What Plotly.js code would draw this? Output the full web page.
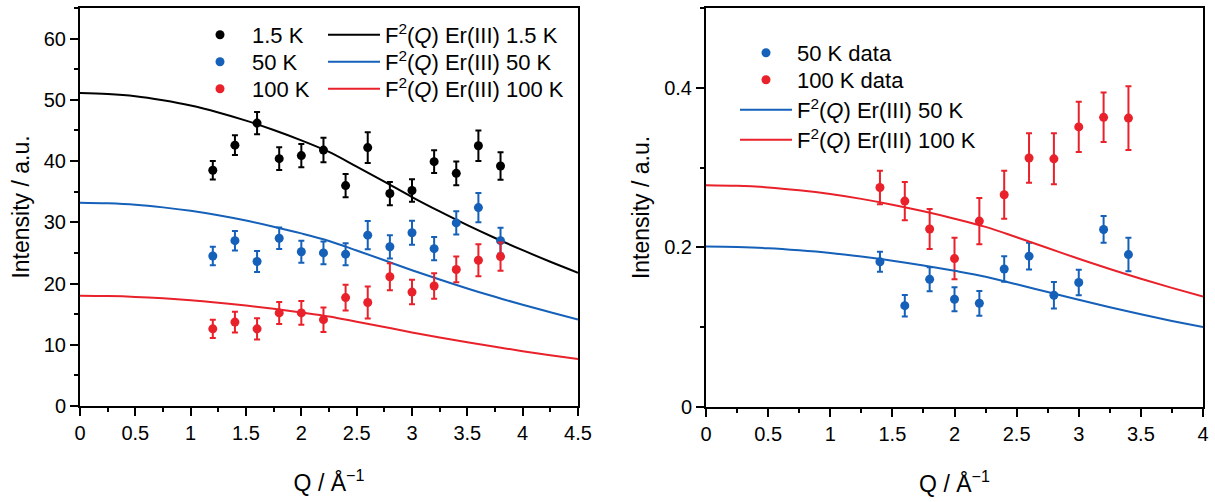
<!DOCTYPE html>
<html>
<head>
<meta charset="utf-8">
<script src="https://cdn.plot.ly/plotly-3.0.1.min.js"></script>
<style>html,body{margin:0;padding:0;background:#fff;}#chart{width:1215px;height:502px;}</style>
</head>
<body>
<div id="chart"></div>
<script>
// ---------- Left panel data ----------
var qData = [1.2, 1.4, 1.6, 1.8, 2.0, 2.2, 2.4, 2.6, 2.8, 3.0, 3.2, 3.4, 3.6, 3.8];
var i15K = [38.5, 42.6, 46.2, 40.4, 40.9, 41.8, 36.0, 42.2, 34.7, 35.2, 39.9, 38.0, 42.5, 39.2];
var e15K = [1.5, 1.6, 1.8, 1.85, 1.9, 2.0, 1.9, 2.5, 1.9, 1.85, 1.85, 1.95, 2.5, 2.25];
var i50K = [24.5, 27.0, 23.6, 27.4, 25.2, 25.0, 24.8, 27.9, 26.0, 28.3, 25.7, 29.9, 32.4, 27.0];
var e50K = [1.5, 1.6, 1.7, 1.75, 1.8, 1.85, 1.8, 2.3, 1.9, 1.95, 1.9, 1.9, 2.4, 2.1];
var i100K = [12.6, 13.7, 12.6, 15.2, 15.2, 14.1, 17.7, 16.9, 21.1, 18.6, 19.6, 22.3, 23.8, 24.4];
var e100K = [1.5, 1.7, 1.75, 1.8, 1.95, 2.0, 2.1, 2.6, 2.2, 2.0, 2.1, 2.1, 2.6, 2.3];

var qFitL = [0, 0.25, 0.5, 0.75, 1.0, 1.25, 1.5, 1.75, 2.0, 2.25, 2.5, 2.75, 3.0, 3.25, 3.5, 3.75, 4.0, 4.25, 4.5];
var fit15K = [51.1, 50.95, 50.59, 49.92, 49.06, 47.93, 46.60, 45.07, 43.38, 41.49, 39.09, 36.64, 34.13, 31.78, 29.54, 27.44, 25.45, 23.56, 21.77];
var fit50K = [33.2, 33.10, 32.87, 32.44, 31.87, 31.14, 30.28, 29.28, 28.19, 26.96, 25.40, 23.80, 22.18, 20.65, 19.19, 17.83, 16.53, 15.31, 14.14];
var fit100K = [18.0, 17.95, 17.82, 17.59, 17.28, 16.88, 16.42, 15.88, 15.28, 14.62, 13.77, 12.91, 12.02, 11.20, 10.40, 9.67, 8.96, 8.30, 7.67];

// ---------- Right panel data ----------
var qDataR = [1.4, 1.6, 1.8, 2.0, 2.2, 2.4, 2.6, 2.8, 3.0, 3.2, 3.4];
var r50K = [0.182, 0.127, 0.160, 0.135, 0.130, 0.173, 0.189, 0.140, 0.156, 0.2225, 0.191];
var re50K = [0.0125, 0.0135, 0.015, 0.015, 0.0155, 0.016, 0.0167, 0.0167, 0.016, 0.0167, 0.021];
var r100K = [0.275, 0.258, 0.223, 0.186, 0.233, 0.266, 0.312, 0.311, 0.351, 0.363, 0.362];
var re100K = [0.021, 0.024, 0.025, 0.026, 0.029, 0.030, 0.031, 0.032, 0.0315, 0.031, 0.040];

var qFitR = [0, 0.25, 0.5, 0.75, 1.0, 1.25, 1.5, 1.75, 2.0, 2.25, 2.5, 2.75, 3.0, 3.25, 3.5, 3.75, 4.0];
var fitR50K = [0.201, 0.2004, 0.1990, 0.1964, 0.1930, 0.1885, 0.1833, 0.1773, 0.1706, 0.1632, 0.1538, 0.1441, 0.1343, 0.1250, 0.1162, 0.1079, 0.1001];
var fitR100K = [0.278, 0.2772, 0.2752, 0.2716, 0.2669, 0.2608, 0.2535, 0.2452, 0.2360, 0.2257, 0.2127, 0.1993, 0.1857, 0.1729, 0.1607, 0.1493, 0.1384];

var xTicks = ['0', '0.5', '1', '1.5', '2', '2.5', '3', '3.5', '4', '4.5'];

var BLACK = '#000000', BLUE = '#1560b8', RED = '#e8212a';
var FONT = 'Liberation Sans, Arial, sans-serif';

function pts(x, y, e, color, name, xa, ya, leg) {
  return {
    type: 'scatter', mode: 'markers', x: x, y: y, name: name,
    xaxis: xa, yaxis: ya, legend: leg,
    marker: {color: color, size: 9},
    error_y: {type: 'data', array: e, visible: true, color: color, thickness: 2, width: 3}
  };
}
function fitLine(x, y, color, name, xa, ya, leg) {
  return {
    type: 'scatter', mode: 'lines', x: x, y: y, name: name,
    xaxis: xa, yaxis: ya, legend: leg,
    line: {color: color, width: 2, shape: 'spline'}
  };
}
function fLabel(t) { return 'F<sup>2</sup>(<i>Q</i>) Er(III) ' + t; }

var traces = [
  fitLine(qFitL, fit15K, BLACK, fLabel('1.5 K'), 'x', 'y', 'legend4'),
  fitLine(qFitL, fit50K, BLUE, fLabel('50 K'), 'x', 'y', 'legend5'),
  fitLine(qFitL, fit100K, RED, fLabel('100 K'), 'x', 'y', 'legend6'),
  pts(qData, i15K, e15K, BLACK, '1.5 K', 'x', 'y', 'legend'),
  pts(qData, i50K, e50K, BLUE, '50 K', 'x', 'y', 'legend2'),
  pts(qData, i100K, e100K, RED, '100 K', 'x', 'y', 'legend3'),
  pts(qDataR, r50K, re50K, BLUE, '50 K data', 'x2', 'y2', 'legend7'),
  pts(qDataR, r100K, re100K, RED, '100 K data', 'x2', 'y2', 'legend8'),
  fitLine(qFitR, fitR50K, BLUE, fLabel('50 K'), 'x2', 'y2', 'legend9'),
  fitLine(qFitR, fitR100K, RED, fLabel('100 K'), 'x2', 'y2', 'legend10')
];

function xAxis(domain, range, vals, anchor) {
  return {
    domain: domain, range: range, anchor: anchor,
    tickmode: 'array', tickvals: vals.map(Number), ticktext: vals,
    ticks: 'outside', ticklen: 8, tickwidth: 2, tickcolor: '#000',
    minor: {ticks: 'outside', dtick: 0.25, tick0: 0, ticklen: 4, tickwidth: 2, tickcolor: '#000'},
    showline: true, linewidth: 2, linecolor: '#000', mirror: true,
    showgrid: false, zeroline: false, automargin: false,
    tickfont: {family: FONT, size: 20, color: '#000'},
    title: {text: 'Q / Å<sup>−1</sup>', font: {family: FONT, size: 23, color: '#000'}, standoff: 32}
  };
}
function yAxis(domain, range, dtick, minorD, anchor) {
  return {
    domain: domain, range: range, anchor: anchor,
    tick0: 0, dtick: dtick,
    ticks: 'outside', ticklen: 8, tickwidth: 2, tickcolor: '#000',
    minor: {ticks: 'outside', dtick: minorD, tick0: 0, ticklen: 4, tickwidth: 2, tickcolor: '#000'},
    showline: true, linewidth: 2, linecolor: '#000', mirror: true,
    showgrid: false, zeroline: false, automargin: false,
    tickfont: {family: FONT, size: 20, color: '#000'},
    title: {text: 'Intensity / a.u.', font: {family: FONT, size: 23, color: '#000'}, standoff: 8}
  };
}

var legFont = {family: FONT, size: 22, color: '#000'};
function leg(xpx, ypx, w) {
  return {x: xpx / 1215, y: 1 - ypx / 502, xanchor: 'left', yanchor: 'middle', itemwidth: w,
          font: legFont, bgcolor: 'rgba(0,0,0,0)', borderwidth: 0, tracegroupgap: 0};
}

var layout = {
  width: 1215, height: 502,
  margin: {l: 0, r: 0, t: 0, b: 0},
  paper_bgcolor: '#fff', plot_bgcolor: '#fff',
  showlegend: true,
  xaxis: xAxis([80/1215, 578/1215], [0, 4.5], xTicks, 'y'),
  yaxis: yAxis([1 - 406/502, 1 - 8/502], [0, 65], 10, 5, 'x'),
  xaxis2: xAxis([706/1215, 1203/1215], [0, 4], xTicks.slice(0, 9), 'y2'),
  yaxis2: yAxis([1 - 407/502, 1 - 8/502], [0, 0.5], 0.2, 0.1, 'x2'),
  legend: leg(188, 35, 54),
  legend2: leg(188, 62, 54),
  legend3: leg(188, 89, 54),
  legend4: leg(323, 35, 52),
  legend5: leg(323, 62, 52),
  legend6: leg(323, 89, 52),
  legend7: leg(735, 53, 52),
  legend8: leg(735, 80, 52),
  legend9: leg(735, 110, 52),
  legend10: leg(735, 140, 52)
};

Plotly.newPlot('chart', traces, layout, {displayModeBar: false, staticPlot: true});
</script>
</body>
</html>
